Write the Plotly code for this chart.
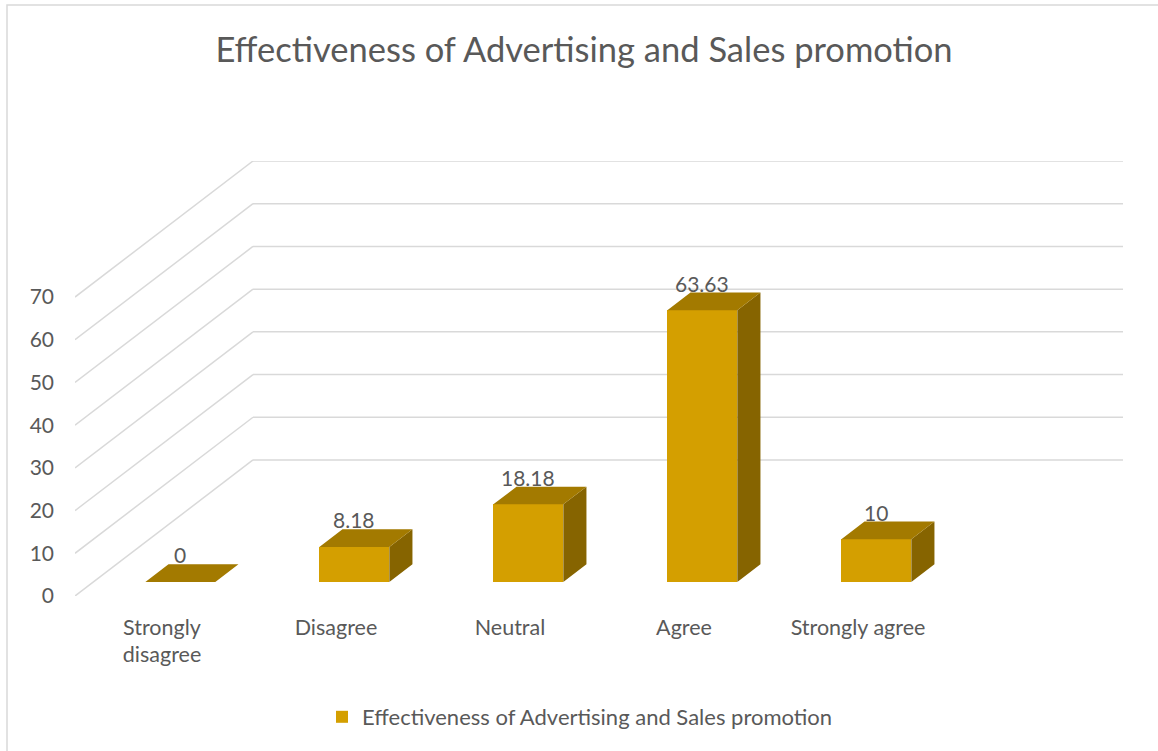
import plotly.graph_objects as go

# Survey responses (% of respondents)
categories = ["Strongly<br>disagree", "Disagree", "Neutral", "Agree", "Strongly agree"]
values = [0, 8.18, 18.18, 63.63, 10]
value_labels = ["0", "8.18", "18.18", "63.63", "10"]
y_ticks = [0, 10, 20, 30, 40, 50, 60, 70]
series_name = "Effectiveness of Advertising and Sales promotion"

# Oblique projection of the 3-D box: one unit of depth shifts a point
# DX category units to the right and DY value units upward.
DX = 178 / 174
DY = 31.85
W_FRONT, W_BACK = 0.103, 0.233   # depth slot occupied by the bars
BAR_W = 0.402
Y_MAX = y_ticks[-1]

FRONT = "#D49F00"
TOP = "#A37A00"
SIDE = "#866400"
GRID = "#D9D9D9"
TEXT = "#595959"
FONT = "Lato"

n = len(categories)
x_left, x_right = -0.5, n - 0.5

fig = go.Figure()

# Walls: back-wall gridlines and side-wall diagonals
shapes = []
for t in y_ticks:
    shapes.append(dict(type="line", xref="x", yref="y", layer="below",
                       x0=x_left, y0=t, x1=x_left + DX, y1=t + DY,
                       line=dict(color=GRID, width=1.5)))
    shapes.append(dict(type="line", xref="x", yref="y", layer="below",
                       x0=x_left + DX, y0=t + DY, x1=x_right + DX, y1=t + DY,
                       line=dict(color=GRID, width=1.5)))

# Chart frame
shapes.append(dict(type="rect", xref="paper", yref="paper",
                   x0=(7 - 75) / 1048, x1=1.2, y0=-0.5, y1=(596 - 5) / 435,
                   line=dict(color=GRID, width=1.5), layer="below"))

# Front faces of the bars
centers = [i + DX * W_FRONT for i in range(n)]
fig.add_trace(go.Bar(
    x=centers, y=values, base=[DY * W_FRONT] * n, width=BAR_W,
    marker=dict(color=FRONT, line=dict(width=0)),
    name=series_name, hoverinfo="skip",
))

# Top and side faces
dw = W_BACK - W_FRONT
top_x, top_y, side_x, side_y = [], [], [], []
for c, v in zip(centers, values):
    xl, xr = c - BAR_W / 2, c + BAR_W / 2
    base = DY * W_FRONT
    top = base + v
    top_x += [xl, xr, xr + DX * dw, xl + DX * dw, xl, None]
    top_y += [top, top, top + DY * dw, top + DY * dw, top, None]
    if v > 0:
        side_x += [xr, xr + DX * dw, xr + DX * dw, xr, xr, None]
        side_y += [base, base + DY * dw, top + DY * dw, top, base, None]

fig.add_trace(go.Scatter(x=side_x, y=side_y, fill="toself", fillcolor=SIDE,
                         mode="lines", line=dict(width=0, color=SIDE),
                         showlegend=False, hoverinfo="skip"))
fig.add_trace(go.Scatter(x=top_x, y=top_y, fill="toself", fillcolor=TOP,
                         mode="lines", line=dict(width=0, color=TOP),
                         showlegend=False, hoverinfo="skip"))

# Value labels above each bar
annotations = []
for c, v, lab in zip(centers, values, value_labels):
    annotations.append(dict(x=c, y=DY * W_BACK + v, xref="x", yref="y",
                            text=lab, showarrow=False, yanchor="bottom",
                            yshift=-5, font=dict(family=FONT, size=21, color=TEXT)))

fig.update_layout(
    width=1158, height=751,
    margin=dict(l=75, r=35, t=161, b=155),
    paper_bgcolor="white", plot_bgcolor="rgba(0,0,0,0)",
    shapes=shapes, annotations=annotations,
    title=dict(text="Effectiveness of Advertising and Sales promotion",
               x=584 / 1158, xanchor="center", xref="container",
               y=1 - 50 / 751, yanchor="middle", yref="container",
               font=dict(family=FONT, size=34.5, color=TEXT)),
    showlegend=True,
    legend=dict(orientation="h", x=322 / 1158, xanchor="left", xref="container",
                y=1 - 717 / 751, yanchor="middle", yref="container",
                font=dict(family=FONT, size=22, color=TEXT),
                itemsizing="constant"),
    xaxis=dict(range=[x_left, x_right + DX], tickvals=list(range(n)),
               ticktext=categories, showgrid=False, zeroline=False,
               showline=False, ticks="", ticklabelstandoff=16,
               tickfont=dict(family=FONT, size=21.5, color=TEXT), fixedrange=True),
    yaxis=dict(range=[0, Y_MAX + DY], tickvals=y_ticks, showgrid=False,
               zeroline=False, showline=False, ticks="", ticklabelstandoff=20,
               tickfont=dict(family=FONT, size=21, color=TEXT), fixedrange=True),
    bargap=0,
)

fig.write_html("out.html")
